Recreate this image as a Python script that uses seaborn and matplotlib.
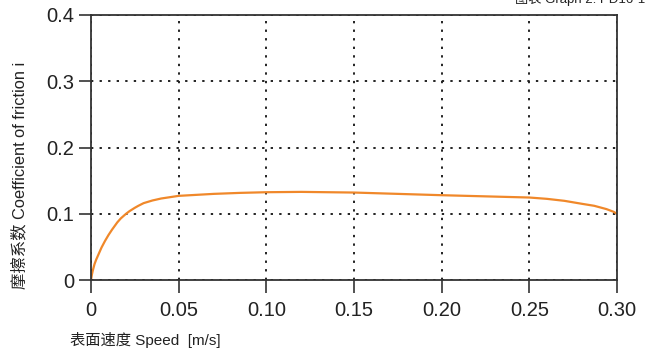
import pandas as pd
import matplotlib
matplotlib.use('Agg')
import matplotlib.pyplot as plt
import seaborn as sns

# values
speed = [0, 0.0005, 0.001, 0.002, 0.003, 0.004, 0.006, 0.008, 0.01, 0.012, 0.015,
         0.017, 0.02, 0.022, 0.025, 0.027, 0.03, 0.035, 0.04, 0.045, 0.05, 0.06,
         0.07, 0.085, 0.10, 0.12, 0.15, 0.20, 0.25, 0.26, 0.27, 0.28, 0.287,
         0.294, 0.298, 0.30]
friction = [0, 0.008, 0.014, 0.024, 0.031, 0.037, 0.049, 0.059, 0.068, 0.076, 0.087,
            0.093, 0.100, 0.104, 0.109, 0.112, 0.116, 0.120, 0.123, 0.125, 0.127, 0.1285,
            0.130, 0.1315, 0.1325, 0.133, 0.132, 0.128, 0.1245, 0.1225, 0.1195, 0.115, 0.112,
            0.107, 0.103, 0.100]
x_ticks = [0, 0.05, 0.10, 0.15, 0.20, 0.25, 0.30]
x_labels = ['0', '0.05', '0.10', '0.15', '0.20', '0.25', '0.30']
y_ticks = [0, 0.1, 0.2, 0.3, 0.4]
y_labels = ['0', '0.1', '0.2', '0.3', '0.4']

df = pd.DataFrame({'speed': speed, 'friction': friction})

sns.set_style('ticks')
plt.rcParams['font.family'] = ['Liberation Sans', 'Noto Sans CJK SC', 'DejaVu Sans']

fig = plt.figure(figsize=(6.52, 3.51), dpi=100)
ax = fig.add_axes([91 / 652, 1 - 280 / 351, 526 / 652, 265 / 351])

sns.lineplot(data=df, x='speed', y='friction', ax=ax, color='#f0882a', linewidth=1.6)

ax.set_xlim(0, 0.30)
ax.set_ylim(0, 0.4)
ax.set_xticks(x_ticks)
ax.set_xticklabels(x_labels)
ax.set_yticks(y_ticks)
ax.set_yticklabels(y_labels)
ax.grid(True, color='#222222', linestyle=(0, (1.2, 3.2)), linewidth=1.4)
for s in ax.spines.values():
    s.set_color('#333333')
    s.set_linewidth(1.3)
ax.tick_params(direction='out', length=9, width=1.2, color='#333333',
               labelsize=14.5, labelcolor='#222222')
ax.tick_params(axis='x', pad=6)
ax.tick_params(axis='y', pad=3)

ax.set_xlabel('')
ax.set_ylabel('')
fig.text(70 / 652, 1 - 340 / 351, '表面速度 Speed  [m/s]', fontsize=11,
         color='#222222', va='center', ha='left')
fig.text(20 / 652, 1 - 175 / 351, '摩擦系数 Coefficient of friction i', fontsize=11.8,
         color='#222222', va='center', ha='center', rotation=90)
fig.text(645 / 652, 1 + 1 / 351, '图表 Graph 2. PD16-1', fontsize=9.5,
         color='#222222', va='center', ha='right')

fig.savefig('out.png', dpi=100)
